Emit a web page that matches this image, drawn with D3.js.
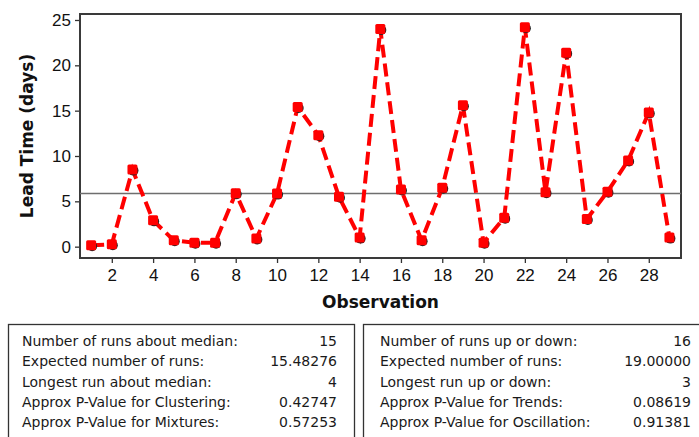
<!DOCTYPE html>
<meta charset="utf-8">
<style>
  body { margin: 0; background: #fff; }
  svg { font-family: "DejaVu Sans", sans-serif; }
  .axis text { font-size: 17px; fill: #111; }
  .axis path { display: none; }
  .axis line { stroke: #333; stroke-width: 1.3; }
  .frame { fill: none; stroke: #3a3a3a; stroke-width: 2; }
  .median { stroke: #6e6e6e; stroke-width: 1.5; }
  .run-line { fill: none; stroke: #ff0000; stroke-width: 4; stroke-dasharray: 13, 6; }
  .label { font-size: 17px; font-weight: bold; fill: #111; }
  .tbl { fill: none; stroke: #333; stroke-width: 1.3; }
  .tbl-text { font-size: 14px; fill: #1a1a1a; }
</style>
<svg width="699" height="437"></svg>
<script src="https://cdn.jsdelivr.net/npm/d3@7"></script>
<script>

var observations = d3.range(1, 30);
var leadTime = [0.15, 0.26, 8.5, 2.9, 0.7, 0.44, 0.44, 5.9, 0.9, 5.85,
                15.4, 12.3, 5.5, 1.0, 24.0, 6.3, 0.7, 6.5, 15.6, 0.44,
                3.2, 24.2, 6.0, 21.4, 3.05, 6.05, 9.5, 14.8, 1.0];
var median = 5.85;
var xTicks = [2, 4, 6, 8, 10, 12, 14, 16, 18, 20, 22, 24, 26, 28];
var yTicks = [0, 5, 10, 15, 20, 25];

var medianLabels = ["Number of runs about median:", "Expected number of runs:",
  "Longest run about median:", "Approx P-Value for Clustering:", "Approx P-Value for Mixtures:"];
var medianValues = ["15", "15.48276", "4", "0.42747", "0.57253"];
var updownLabels = ["Number of runs up or down:", "Expected number of runs:",
  "Longest run up or down:", "Approx P-Value for Trends:", "Approx P-Value for Oscillation:"];
var updownValues = ["16", "19.00000", "3", "0.08619", "0.91381"];

var svg = d3.select("svg");
var plotL = 80, plotR = 681, plotT = 14, plotB = 258;

var x = d3.scaleLinear().domain([0.46, 29.56]).range([plotL, plotR]);
var y = d3.scaleLinear().domain([-1.25, 25.66]).range([plotB, plotT]);

// axes
svg.append("g")
    .attr("class", "axis")
    .attr("transform", "translate(0," + plotB + ")")
    .call(d3.axisBottom(x).tickValues(xTicks).tickSize(5).tickPadding(6));

svg.append("g")
    .attr("class", "axis")
    .attr("transform", "translate(" + plotL + ",0)")
    .call(d3.axisLeft(y).tickValues(yTicks).tickSize(5).tickPadding(4));

svg.append("rect")
    .attr("class", "frame")
    .attr("x", plotL).attr("y", plotT)
    .attr("width", plotR - plotL).attr("height", plotB - plotT);

// median reference line
svg.append("line")
    .attr("class", "median")
    .attr("x1", plotL).attr("x2", plotR)
    .attr("y1", y(median)).attr("y2", y(median));

var line = d3.line()
    .x(function(d, i) { return x(observations[i]); })
    .y(function(d) { return y(d); });

svg.append("path")
    .datum(leadTime)
    .attr("class", "run-line")
    .attr("d", line);

// markers: dark dot behind a red square
var pts = svg.append("g").selectAll("g")
    .data(leadTime)
    .enter().append("g")
    .attr("transform", function(d, i) { return "translate(" + x(observations[i]) + "," + y(d) + ")"; });

pts.append("circle")
    .attr("cx", 1).attr("cy", 1).attr("r", 5)
    .attr("fill", "#222");
pts.append("rect")
    .attr("x", -5).attr("y", -5).attr("width", 10).attr("height", 10)
    .attr("rx", 1.5)
    .attr("fill", "#ff0000");

// axis titles
svg.append("text")
    .attr("class", "label")
    .attr("x", (plotL + plotR) / 2)
    .attr("y", 308)
    .attr("text-anchor", "middle")
    .text("Observation");

svg.append("text")
    .attr("class", "label")
    .attr("transform", "translate(33," + ((plotT + plotB) / 2) + ") rotate(-90)")
    .attr("text-anchor", "middle")
    .text("Lead Time (days)");

// stats tables
function table(x0, x1, labels, values, tx, vx) {
  svg.append("rect")
      .attr("class", "tbl")
      .attr("x", x0).attr("y", 324.5)
      .attr("width", x1 - x0).attr("height", 130);
  var rows = svg.append("g").selectAll("g")
      .data(labels)
      .enter().append("g");
  rows.append("text")
      .attr("class", "tbl-text")
      .attr("x", tx)
      .attr("y", function(d, i) { return 346 + i * 20.3; })
      .text(function(d) { return d; });
  rows.append("text")
      .attr("class", "tbl-text")
      .attr("x", vx)
      .attr("text-anchor", "end")
      .attr("y", function(d, i) { return 346 + i * 20.3; })
      .text(function(d, i) { return values[i]; });
}
table(8.5, 354.5, medianLabels, medianValues, 22, 337);
table(363.5, 720, updownLabels, updownValues, 380, 691);

</script>
